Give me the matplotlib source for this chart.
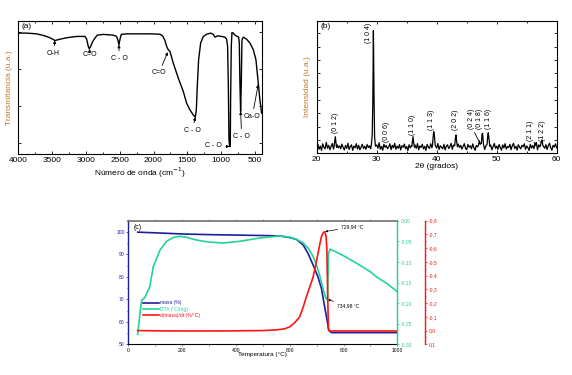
import numpy as np
import matplotlib
matplotlib.use("Agg")
import matplotlib.pyplot as plt
from matplotlib.ticker import MultipleLocator, FuncFormatter

plt.rcParams['font.family'] = ['Liberation Sans', 'DejaVu Sans']

# ---------------- Panel (a) FTIR ----------------
ftir_w = [4000, 3877, 3729, 3606, 3532, 3458, 3384, 3285, 3137, 3014, 2989, 2965, 2950, 2930,
          2901, 2871, 2832, 2743, 2595, 2546, 2526, 2511, 2496, 2477, 2398, 2053, 1905, 1865,
          1831, 1806, 1782, 1757, 1708, 1634, 1560, 1510, 1461, 1412, 1382, 1367, 1353, 1333,
          1303, 1264, 1214, 1155, 1116, 1091, 1057, 993, 944, 919, 904, 894, 884, 874, 865, 860,
          850, 840, 820, 796, 761, 741, 731, 722, 712, 702, 692, 672, 623, 574, 524, 485, 450,
          426, 401]
ftir_t = [79.3, 79.3, 78.9, 77.8, 76.8, 75.3, 76.0, 76.8, 77.5, 77.5, 76.0, 72.1, 70.7, 72.1,
          74.6, 76.4, 78.2, 78.6, 78.2, 77.5, 75.3, 73.0, 76.0, 78.6, 78.9, 78.9, 78.7, 77.8,
          75.3, 72.1, 70.3, 69.4, 63.1, 55.0, 47.8, 41.4, 37.8, 35.1, 33.9, 37.8, 50.4, 64.9,
          73.9, 77.5, 78.7, 79.3, 78.6, 77.1, 77.8, 77.5, 77.1, 76.0, 72.1, 52.3, 21.6, 18.0, 18.0, 43.2,
          72.1, 79.6, 79.3, 78.2, 77.5, 77.1, 73.9, 52.3, 37.0, 52.3, 75.7, 77.1, 76.0, 73.9, 70.3, 64.9, 52.0,
          43.0, 36.0]
ftir_labels = ['O-H', 'C=O', 'C - O', 'C=O', 'C - O', 'C - O', 'C - O', 'Ca-O']
ftir_lab_xy = [(3458, 75.3), (2950, 70.7), (2511, 73.0), (1790, 69.0), (1382, 33.9),
               (876, 18.0), (712, 37.0), (452, 51.5)]
ftir_lab_txt = [(3482, 68.3), (2939, 67.9), (2509, 65.6), (1919, 57.8), (1426, 26.8),
                (1116, 18.4), (696, 23.6), (539, 34.4)]

# ---------------- Panel (b) XRD ----------------
xrd_base = [55, 88, 40, 72, 30, 95, 60, 45, 110, 50,
            80, 35, 70, 98, 42, 65, 28, 85, 55, 75,
            45, 92, 60, 33, 78, 50, 100, 38, 68, 85,
            30, 72, 55, 96, 44, 80, 35, 62, 90, 48,
            70, 40, 88, 58, 75, 45, 95, 52, 66, 38,
            84, 50, 105, 42, 70, 30, 90, 60, 78, 46,
            64, 95, 36, 80, 55, 100, 40, 72, 50, 88,
            33, 76, 60, 92, 45, 68, 28, 86, 54, 78,
            60, 40, 82, 50, 97, 35, 74, 58, 90, 44,
            70, 30, 88, 62, 48, 95, 56, 80, 40, 72,
            52, 98, 38, 76, 60, 45, 90, 34, 70, 85,
            48, 66, 100, 40, 82, 55, 74, 30, 92, 58,
            80, 42, 68, 96, 50, 36, 88, 62, 75, 45,
            94, 56, 30, 78, 64, 100, 44, 70, 52, 86,
            38, 74, 58, 92, 46, 82, 34, 66, 98, 50,
            72, 40, 88, 60, 30, 84, 54, 96, 42, 68,
            58, 90, 36, 76, 100, 48, 70, 32, 86, 62,
            44, 80, 66, 95, 40, 74, 56, 28, 90, 52,
            78, 46, 98, 60, 35, 84, 64, 42, 92, 70,
            50, 86, 38, 74, 102, 56, 30, 80, 62, 94,
            55]
xrd_base_start, xrd_base_step = 20.0, 0.2
xrd_peak_x = [[22.9, 23.0, 23.1, 23.2, 23.3],
              [29.1, 29.25, 29.35, 29.45, 29.55, 29.65, 29.8],
              [35.85, 35.95, 36.05, 36.15, 36.3],
              [39.3, 39.4, 39.5, 39.6, 39.75],
              [43.0, 43.1, 43.2, 43.3, 43.45],
              [46.95, 47.1, 47.25],
              [47.45, 47.55, 47.65, 47.8],
              [48.4, 48.5, 48.6, 48.7, 48.85],
              [56.5, 56.6, 56.7],
              [57.3, 57.45, 57.55, 57.7]]
xrd_peak_y = [[70, 120, 166, 110, 60],
              [80, 180, 500, 1226, 600, 160, 70],
              [70, 120, 166, 110, 60],
              [80, 160, 216, 190, 80],
              [75, 140, 183, 130, 65],
              [80, 125, 90],
              [100, 190, 200, 90],
              [90, 170, 206, 150, 70],
              [80, 108, 75],
              [80, 120, 133, 75]]
xrd_labels = ['(0 1 2)', '(1 0 4)', '(0 0 6)', '(1 1 0)', '(1 1 3)', '(2 0 2)',
              '(0 2 4)', '(0 1 8)', '(1 1 6)', '(2 1 1)', '(1 2 2)']
xrd_lab_pos = [(23.17, 300), (28.6, 1200), (31.67, 213), (36.0, 283), (39.17, 333),
               (43.17, 333), (45.83, 343), (47.2, 343), (48.6, 343), (55.67, 223), (57.6, 223)]

# ---------------- Panel (c) TGA / DTA ----------------
tg_T = [35, 100, 200, 300, 400, 500, 563, 600, 625, 650, 668, 687, 705, 718, 730, 739, 745,
        755, 800, 900, 1000]
tg_masa = [99.9, 99.6, 99.1, 98.8, 98.6, 98.4, 98.2, 97.5, 96.7, 94.2, 90.5, 85.3, 80.0, 74.9,
           66.7, 60.7, 56.2, 55.2, 55.2, 55.2, 55.2]
dta_T = [35, 45, 50, 62, 80, 93, 118, 142, 170, 192, 215, 241, 270, 303, 353, 414, 489, 563,
         600, 625, 650, 670, 687, 700, 711, 722, 730, 735, 739, 741, 744, 750, 760, 800, 848,
         900, 922, 960, 1000]
dta_v = [-0.276, -0.215, -0.193, -0.186, -0.160, -0.111, -0.071, -0.050, -0.040, -0.038,
         -0.040, -0.045, -0.049, -0.052, -0.054, -0.050, -0.042, -0.037, -0.040, -0.045,
         -0.054, -0.068, -0.087, -0.108, -0.132, -0.160, -0.180, -0.188, -0.191, -0.185,
         -0.080, -0.069, -0.072, -0.085, -0.103, -0.124, -0.136, -0.152, -0.172]
dm_T = [35, 100, 200, 300, 400, 500, 550, 580, 600, 620, 637, 650, 662, 675, 687, 697, 705,
        712, 718, 724, 729, 732, 735, 738, 740, 742, 744, 748, 760, 800, 900, 1000]
dm_v = [0.0, 0.002, 0.003, 0.003, 0.002, 0.0, -0.005, -0.012, -0.027, -0.06, -0.10, -0.17,
        -0.246, -0.32, -0.39, -0.48, -0.56, -0.63, -0.685, -0.71, -0.72, -0.71, -0.69, -0.60,
        -0.39, -0.18, -0.015, 0.003, 0.003, 0.003, 0.003, 0.003]
series_names = ['masa (%)', 'DTA (°C/mg)', 'd(masa)/dt (%/°C)']

C_BLUE = '#1e1e9a'
C_GREEN = '#22d494'
C_RED = '#ff1414'
C_ORANGE = '#c0782a'

W, H = 572, 375
fig = plt.figure(figsize=(W / 100, H / 100), dpi=100)

def fr(l, t, r, b):
    return [l / W, 1 - b / H, (r - l) / W, (b - t) / H]

# ---- (a)
axa = fig.add_axes(fr(18.3, 20.7, 261.7, 154))
axa.plot(ftir_w, ftir_t, color='k', lw=1.0)
axa.set_xlim(4000, 400)
axa.set_ylim(14, 86)
axa.xaxis.set_major_locator(MultipleLocator(500))
axa.xaxis.set_minor_locator(MultipleLocator(250))
axa.set_yticks([20, 40, 60, 80])
axa.set_yticklabels([])
axa.tick_params(direction='in', which='both', top=True, right=True, labelsize=6, pad=2,
                length=2.5, width=0.6)
axa.tick_params(which='minor', length=1.5)
axa.set_xlabel('Número de onda (cm$^{-1}$)', fontsize=6, labelpad=1)
axa.set_ylabel('Transmitancia (u.a.)', fontsize=6, color=C_ORANGE, labelpad=2)
axa.text(0.015, 0.985, '(a)', transform=axa.transAxes, fontsize=6, va='top', ha='left')
for lab, xy, txt in zip(ftir_labels, ftir_lab_xy, ftir_lab_txt):
    axa.annotate(lab, xy=xy, xytext=txt, fontsize=5, ha='center', va='center',
                 arrowprops=dict(arrowstyle='-|>', lw=0.6, color='k', mutation_scale=4,
                                 shrinkA=1, shrinkB=0))
for s in axa.spines.values():
    s.set_linewidth(0.8)

# ---- (b)
axb = fig.add_axes(fr(316.7, 20.7, 556.7, 153.3))
bx = [xrd_base_start + i * xrd_base_step for i in range(len(xrd_base))]
px_all = [x for grp in xrd_peak_x for x in grp]
py_all = [y for grp in xrd_peak_y for y in grp]
keep_x, keep_y = [], []
for x, y in zip(bx, xrd_base):
    if not any(min(g) - 0.05 <= x <= max(g) + 0.05 for g in xrd_peak_x):
        keep_x.append(x); keep_y.append(y)
allx = np.array(keep_x + px_all)
ally = np.array(keep_y + py_all)
order = np.argsort(allx)
axb.plot(allx[order], ally[order], color='k', lw=0.9)
axb.set_xlim(20, 60)
axb.set_ylim(0, 1326)
axb.xaxis.set_major_locator(MultipleLocator(10))
axb.xaxis.set_minor_locator(MultipleLocator(5))
axb.yaxis.set_major_locator(MultipleLocator(133.3))
axb.set_yticklabels([])
axb.tick_params(direction='in', which='both', top=True, right=True, labelsize=6, pad=2,
                length=2.5, width=0.6)
axb.tick_params(which='minor', length=1.5)
axb.set_xlabel('2θ (grados)', fontsize=6, labelpad=0)
axb.set_ylabel('Intensidad (u.a.)', fontsize=6, color=C_ORANGE, labelpad=2)
axb.text(0.015, 0.985, '(b)', transform=axb.transAxes, fontsize=6, va='top', ha='left')
for lab, pos in zip(xrd_labels, xrd_lab_pos):
    axb.text(pos[0], pos[1], lab, rotation=90, fontsize=5, ha='center', va='center')
axb.annotate('', xy=(47.2, 100), xytext=(46.1, 233),
             arrowprops=dict(arrowstyle='-', lw=0.6, color='k'))
axb.annotate('', xy=(56.7, 73), xytext=(55.9, 133),
             arrowprops=dict(arrowstyle='-', lw=0.6, color='k'))
for s in axb.spines.values():
    s.set_linewidth(0.8)

# ---- (c)
axc = fig.add_axes(fr(128.3, 220.7, 397.3, 344.3))
axc2 = axc.twinx()
axc3 = axc.twinx()
axc3.spines['right'].set_position(('axes', 1.103))

l1, = axc.plot(tg_T, tg_masa, color=C_BLUE, lw=1.2, label=series_names[0])
l2, = axc2.plot(dta_T, dta_v, color=C_GREEN, lw=1.2, label=series_names[1])
l3, = axc3.plot(dm_T, dm_v, color=C_RED, lw=1.2, label=series_names[2])

axc.set_xlim(0, 1000)
axc.set_ylim(50, 105)
axc2.set_ylim(-0.30, 0.0)
axc3.set_ylim(0.1, -0.8)

axc.xaxis.set_major_locator(MultipleLocator(200))
axc.xaxis.set_minor_locator(MultipleLocator(100))
axc.yaxis.set_major_locator(MultipleLocator(10))
axc.yaxis.set_minor_locator(MultipleLocator(5))
axc2.yaxis.set_major_locator(MultipleLocator(0.05))
axc2.yaxis.set_minor_locator(MultipleLocator(0.025))
axc3.yaxis.set_major_locator(MultipleLocator(0.1))
axc3.yaxis.set_minor_locator(MultipleLocator(0.05))

comma2 = FuncFormatter(lambda v, p: ('%.2f' % (0.0 if abs(v) < 1e-9 else v)).replace('.', ','))
comma1 = FuncFormatter(lambda v, p: ('%.1f' % (0.0 if abs(v) < 1e-9 else v)).replace('.', ','))
axc2.yaxis.set_major_formatter(comma2)
axc3.yaxis.set_major_formatter(comma1)

fs_c = 3.6
axc.tick_params(axis='x', which='both', direction='out', labelsize=fs_c, pad=1.5,
                length=1.5, width=0.5, top=True, color='#707070')
axc.tick_params(axis='y', which='both', direction='out', labelsize=fs_c, pad=1,
                length=1.5, width=0.5, colors=C_BLUE)
axc.tick_params(axis='y', which='minor', length=1.0)
axc2.tick_params(axis='y', which='both', direction='out', labelsize=fs_c, pad=1,
                 length=1.5, width=0.5, colors=C_GREEN)
axc2.tick_params(axis='y', which='minor', length=1.0)
axc3.tick_params(axis='y', which='both', direction='out', labelsize=fs_c, pad=1,
                 length=1.5, width=0.5, colors=C_RED)
axc3.tick_params(axis='y', which='minor', length=1.0)

axc.spines['left'].set_color(C_BLUE)
axc.spines['left'].set_linewidth(1.0)
axc.spines['top'].set_color('#707070')
axc.spines['top'].set_linewidth(1.2)
axc.spines['bottom'].set_color('k')
axc.spines['bottom'].set_linewidth(0.8)
axc.spines['right'].set_visible(False)
for sp in ['left', 'top', 'bottom']:
    axc2.spines[sp].set_visible(False)
    axc3.spines[sp].set_visible(False)
axc2.spines['right'].set_color(C_GREEN)
axc2.spines['right'].set_linewidth(1.0)
axc3.spines['right'].set_color(C_RED)
axc3.spines['right'].set_linewidth(1.0)

axc.set_xlabel('Temperatura (°C)', fontsize=4.6, labelpad=-1.0)
axc.text(0.02, 0.975, '(c)', transform=axc.transAxes, fontsize=5, va='top', ha='left')

leg = axc.legend(handles=[l1, l2, l3], loc='upper left', bbox_to_anchor=(0.055, 0.355),
                 fontsize=fs_c, frameon=False, handlelength=3.2, handletextpad=0.2,
                 labelspacing=0.25, borderaxespad=0, borderpad=0)
for txt, c in zip(leg.get_texts(), [C_BLUE, C_GREEN, C_RED]):
    txt.set_color(c)

axc3.annotate('729,94 °C', xy=(729, -0.72), xytext=(341, 148), textcoords='figure pixels',
              fontsize=fs_c, ha='left', va='center',
              arrowprops=dict(arrowstyle='-|>', lw=0.5, color='k', mutation_scale=3,
                              shrinkA=0.5, shrinkB=0.5))
axc2.annotate('734,98 °C', xy=(739, -0.191), xytext=(337, 69.3), textcoords='figure pixels',
              fontsize=fs_c, ha='left', va='center',
              arrowprops=dict(arrowstyle='-|>', lw=0.5, color='k', mutation_scale=3,
                              shrinkA=0.5, shrinkB=0.5))

fig.savefig('out.png', dpi=100)
